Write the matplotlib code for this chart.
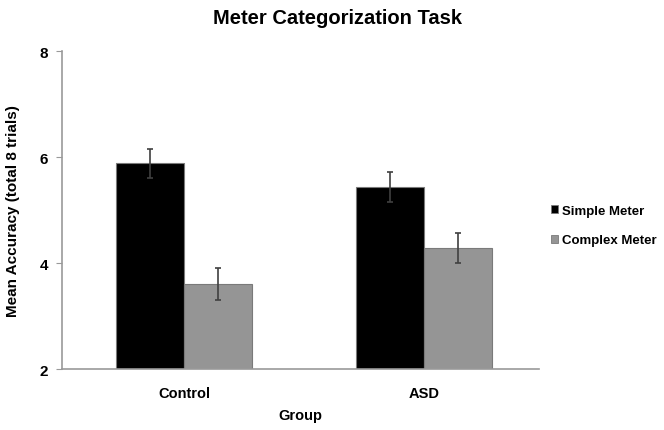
import matplotlib
matplotlib.use('Agg')
import matplotlib.pyplot as plt
from matplotlib.patches import Patch
import numpy as np

plt.rcParams['font.family'] = ['Liberation Sans', 'DejaVu Sans']
plt.rcParams['font.weight'] = 'bold'

groups = ['Control', 'ASD']
series = ['Simple Meter', 'Complex Meter']
simple = [5.88, 5.43]
complex_ = [3.61, 4.29]
simple_err = [0.27, 0.28]
complex_err = [0.30, 0.28]
yticks = [2, 4, 6, 8]

colors = ['#000000', '#959595']
edge = '#7a7a7a'

fig = plt.figure(figsize=(6.64, 4.31), dpi=100)
ax = fig.add_axes([0.0934, 0.1415, 0.7183, 0.7375])

x = np.arange(len(groups))
w = 0.285
ax.bar(x - w / 2, simple, w, bottom=0, color=colors[0], edgecolor=edge, linewidth=0.8)
ax.bar(x + w / 2, complex_, w, bottom=0, color=colors[1], edgecolor=edge, linewidth=0.8)
ax.errorbar(x - w / 2, simple, yerr=simple_err, fmt='none', ecolor='#404040',
            elinewidth=1.2, capsize=2, capthick=1.2)
ax.errorbar(x + w / 2, complex_, yerr=complex_err, fmt='none', ecolor='#404040',
            elinewidth=1.2, capsize=2, capthick=1.2)

ax.set_ylim(2, 8)
ax.set_xlim(-0.508, 1.479)
ax.set_yticks(yticks)
ax.set_xticks(x)
ax.set_xticklabels(groups, fontsize=10.5, fontweight='bold')
ax.set_yticklabels([str(t) for t in yticks], fontsize=11, fontweight='bold')
ax.tick_params(axis='x', length=0, pad=12)
ax.tick_params(axis='y', length=4, color='#999999', pad=6)

for s in ['top', 'right']:
    ax.spines[s].set_visible(False)
for s in ['left', 'bottom']:
    ax.spines[s].set_color('#999999')
    ax.spines[s].set_linewidth(1.2)

ax.set_ylabel('Mean Accuracy (total 8 trials)', fontsize=11, fontweight='bold', labelpad=14)
ax.set_xlabel('Group', fontsize=10.5, fontweight='bold', labelpad=6)
fig.text(0.508, 0.958, 'Meter Categorization Task', ha='center', va='center',
         fontsize=14.5, fontweight='bold')

handles = [Patch(facecolor=c, edgecolor=edge, linewidth=0.6) for c in colors]
fig.legend(handles, series, loc='center left', bbox_to_anchor=(0.830, 0.474),
           frameon=False, borderpad=0, borderaxespad=0,
           handlelength=0.55, handleheight=0.55, handletextpad=0.25,
           labelspacing=1.3, prop={'size': 9.5, 'weight': 'bold'})

fig.savefig('out.png', dpi=100)
